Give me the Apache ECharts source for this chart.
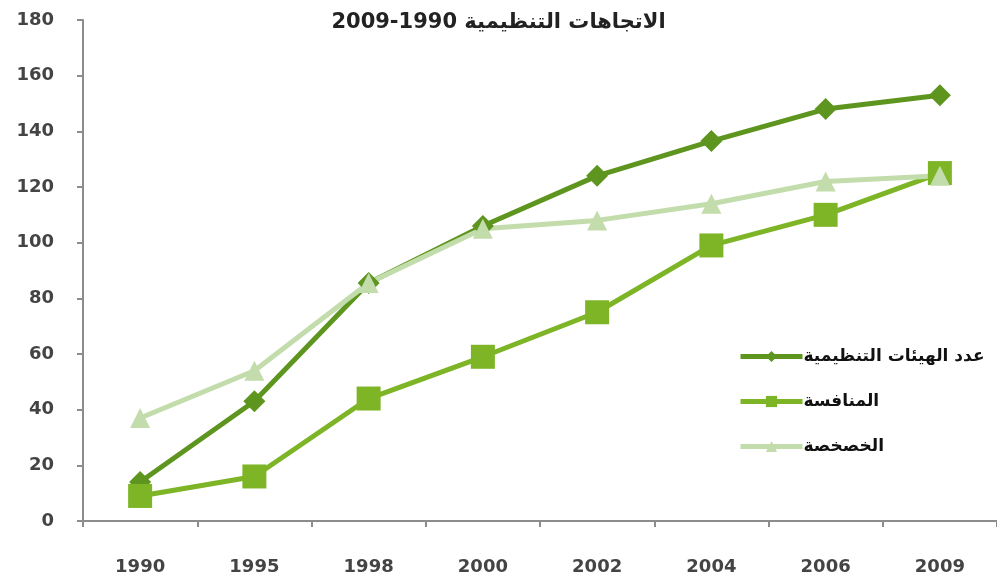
<!DOCTYPE html>
<html>
<head>
<meta charset="utf-8">
<script src="https://cdn.jsdelivr.net/npm/echarts@6/dist/echarts.min.js"></script>
<style>
  html, body { margin: 0; padding: 0; background: #ffffff; }
  #chart { width: 997px; height: 583px; }
</style>
</head>
<body>
<div id="chart"></div>
<script>
// Years on the horizontal axis
const years = ['1990', '1995', '1998', '2000', '2002', '2004', '2006', '2009'];

// Series names (legend)
const nameRegulators = 'عدد الهيئات التنظيمية';
const nameCompetition = 'المنافسة';
const namePrivatization = 'الخصخصة';

// Series values
const regulators = [14, 43, 85.5, 106, 124, 136.5, 148, 153];
const competition = [9, 16, 44, 59, 75, 99, 110, 125];
const privatization = [37, 54, 85.5, 105, 108, 114, 122, 124];

const titleText = '2009-1990 الاتجاهات التنظيمية';

const axisFont = 'DejaVu Sans';
const chart = echarts.init(document.getElementById('chart'), null, { renderer: 'canvas' });

function lineSeries(name, data, color, symbol, size) {
  return {
    name: name,
    type: 'line',
    data: data,
    symbol: symbol,
    symbolSize: size,
    showSymbol: true,
    lineStyle: { color: color, width: 5 },
    itemStyle: { color: color, borderWidth: 0 },
    emphasis: { disabled: true },
    animation: false
  };
}

chart.setOption({
  backgroundColor: '#ffffff',
  animation: false,
  title: {
    text: titleText,
    left: 'center',
    top: 7,
    textStyle: { fontFamily: axisFont, fontSize: 21, fontWeight: 'bold', color: '#222' }
  },
  legend: {
    orient: 'vertical',
    left: 733,
    top: 343,
    itemWidth: 62,
    itemHeight: 14,
    itemGap: 28,
    lineStyle: { width: 5 },
    textStyle: { fontFamily: axisFont, fontSize: 17, fontWeight: 'bold', color: '#111', padding: [0, 0, 0, -4] },
    data: [nameRegulators, nameCompetition, namePrivatization]
  },
  grid: { left: 83, top: 20, width: 916, bottom: 62, containLabel: false },
  xAxis: {
    type: 'category',
    data: years,
    boundaryGap: true,
    axisLine: { lineStyle: { color: '#8c8c8c', width: 2 } },
    axisTick: { show: true, length: 6, alignWithLabel: false, lineStyle: { color: '#8c8c8c', width: 2 } },
    axisLabel: { margin: 37, fontFamily: axisFont, fontSize: 18, fontWeight: 'bold', color: '#444' },
    splitLine: { show: false }
  },
  yAxis: {
    type: 'value',
    min: 0,
    max: 180,
    interval: 20,
    axisLine: { show: true, lineStyle: { color: '#8c8c8c', width: 2 } },
    axisTick: { show: true, length: 6, inside: false, lineStyle: { color: '#8c8c8c', width: 2 } },
    axisLabel: { margin: 29, fontFamily: axisFont, fontSize: 18, fontWeight: 'bold', color: '#444' },
    splitLine: { show: false }
  },
  series: [
    lineSeries(nameRegulators, regulators, '#5e951f', 'diamond', 22),
    lineSeries(nameCompetition, competition, '#7db526', 'rect', 24),
    lineSeries(namePrivatization, privatization, '#c3dcab', 'triangle', 20)
  ]
});
</script>
</body>
</html>
